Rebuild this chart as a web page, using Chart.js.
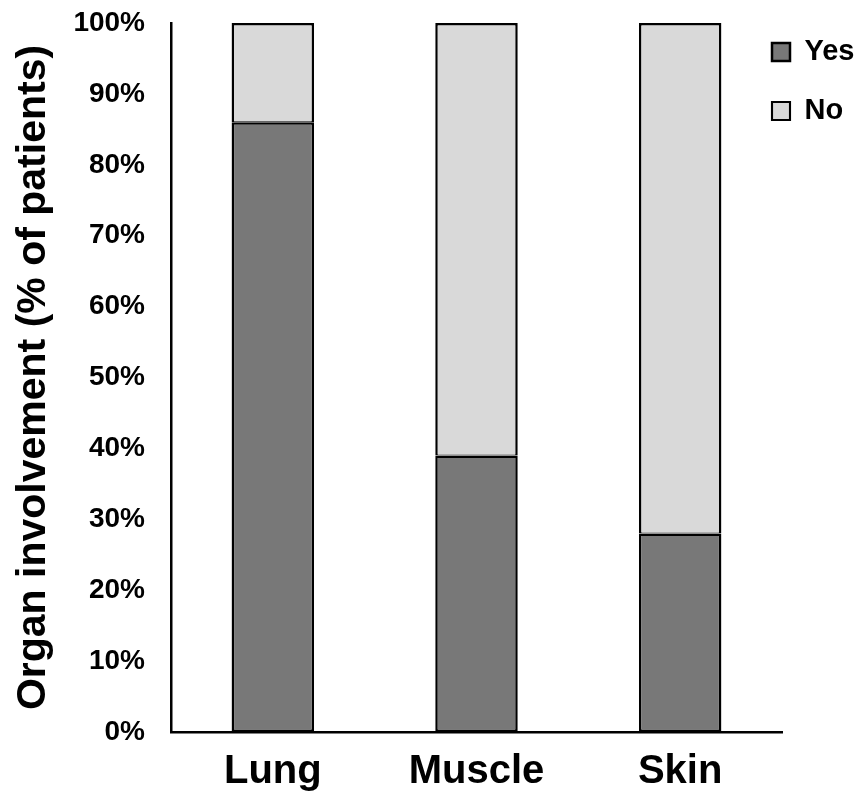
<!DOCTYPE html>
<html>
<head>
<meta charset="utf-8">
<script src="https://cdn.jsdelivr.net/npm/chart.js@4/dist/chart.umd.min.js"></script>
<style>
  html,body{margin:0;padding:0;background:#fff}
  #organChart{display:block}
</style>
</head>
<body>
<canvas id="organChart" width="861" height="792"></canvas>
<script>
/* ══════════════════════════════════════════
   DATA
   ══════════════════════════════════════════ */
const categories=['Lung','Muscle','Skin'];
const yesPct=[86,39,28];
const noPct=[14,61,72];
const seriesNames=['Yes','No'];
const yTickStep=10;

const FONT='"Liberation Sans", Arial, sans-serif';

// legend sits a bit over the right end of the x axis in the original
const legendPlace={
  id:'legendPlace',
  afterLayout(chart){
    const lg=chart.legend;
    if(!lg)return;
    lg.left=742;lg.top=7.5;
  }
};

const ctx=document.getElementById('organChart');
new Chart(ctx,{
  type:'bar',
  data:{
    labels:categories,
    datasets:[
      {label:seriesNames[0],data:yesPct,backgroundColor:'#787878',borderColor:'#000',borderWidth:2.5,borderSkipped:false},
      {label:seriesNames[1],data:noPct,backgroundColor:'#d9d9d9',borderColor:'#000',borderWidth:{top:2.5,left:2.5,right:2.5,bottom:1},borderSkipped:false}
    ]
  },
  options:{
    responsive:false,animation:false,devicePixelRatio:1,
    barPercentage:0.405,categoryPercentage:1,
    layout:{padding:{left:9,top:23,right:0,bottom:0}},
    plugins:{
      tooltip:{enabled:false},
      legend:{
        position:'right',align:'start',maxWidth:79,
        labels:{color:'#000',boxWidth:18,boxHeight:18,padding:30,font:{family:FONT,size:29,weight:'bold'}}
      }
    },
    scales:{
      x:{
        stacked:true,
        grid:{display:false,drawTicks:false},
        border:{display:true,color:'#000',width:2.5},
        ticks:{color:'#000',padding:16,font:{family:FONT,size:40,weight:'bold'}},
        afterFit(s){s.height=60}
      },
      y:{
        stacked:true,min:0,max:100,
        grid:{display:false,drawTicks:false},
        border:{display:true,color:'#000',width:2.5},
        ticks:{stepSize:yTickStep,color:'#000',padding:26,font:{family:FONT,size:28,weight:'bold'},callback:function(v){return v+'%'}},
        title:{display:true,text:'Organ involvement (% of patients)',color:'#000',padding:{top:0,bottom:0},font:{family:FONT,size:41,weight:'bold'}},
        afterFit(s){s.width=162;s.paddingTop=0;s.paddingBottom=0}
      }
    }
  },
  plugins:[legendPlace]
});
</script>
</body>
</html>
